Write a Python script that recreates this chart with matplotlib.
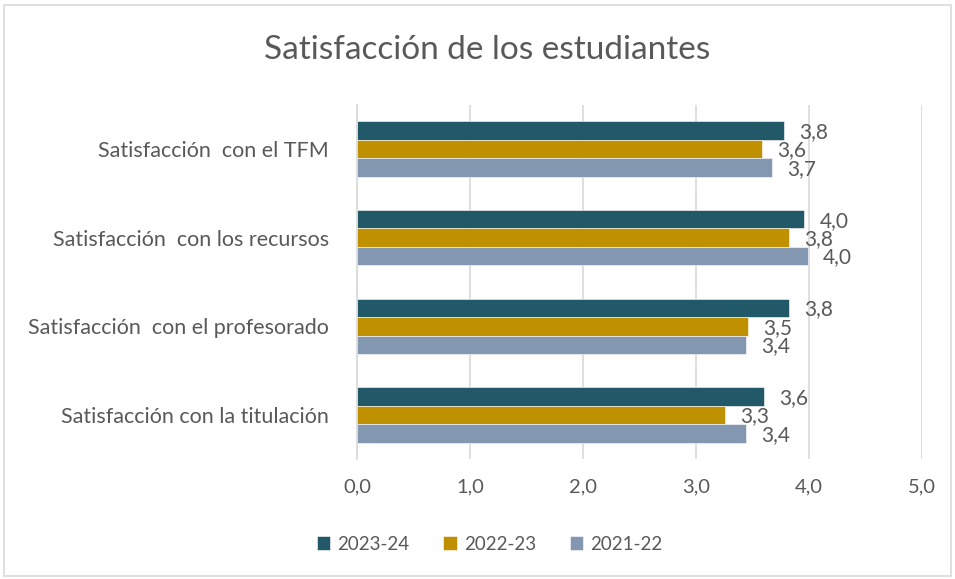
import matplotlib
matplotlib.use("Agg")
import matplotlib.pyplot as plt
from matplotlib.patches import Rectangle
import numpy as np

plt.rcParams['font.family'] = ['Lato', 'DejaVu Sans']

categories = ["Satisfacción con la titulación", "Satisfacción  con el profesorado",
              "Satisfacción  con los recursos", "Satisfacción  con el TFM"]
series_names = ["2023-24", "2022-23", "2021-22"]
v_2023_24 = [3.60, 3.82, 3.96, 3.78]
v_2022_23 = [3.26, 3.46, 3.82, 3.58]
v_2021_22 = [3.44, 3.44, 3.99, 3.67]
colors = ["#215968", "#BF9000", "#8497B0"]
xticks = [0, 1, 2, 3, 4, 5]

text_color = "#595959"
fig = plt.figure(figsize=(9.55, 5.79), dpi=100)
ax = fig.add_axes([0.3738, 0.2067, 0.5916, 0.6125])

y = np.arange(len(categories))
h = 0.207
data = [v_2023_24, v_2022_23, v_2021_22]
offsets = [h, 0, -h]
for vals, off, c, name in zip(data, offsets, colors, series_names):
    bars = ax.barh(y + off, vals, height=h, color=c, label=name, edgecolor='white', linewidth=0.4)
    for b, v in zip(bars, vals):
        ax.annotate(f"{v:.1f}".replace('.', ','), (v, b.get_y() + b.get_height() / 2),
                    xytext=(11, -1), textcoords='offset points', va='center', ha='left',
                    fontsize=15, color=text_color)

ax.set_xlim(0, 5)
ax.set_ylim(-0.5, 3.5)
ax.set_xticks(xticks)
ax.set_xticklabels([f"{t:.1f}".replace('.', ',') for t in xticks])
ax.set_yticks(y)
ax.set_yticklabels(categories, fontsize=15.5)
ax.tick_params(axis='both', length=0, colors=text_color)
ax.tick_params(axis='x', pad=14, labelsize=14.5)
ax.tick_params(axis='y', pad=20)
ax.xaxis.grid(True, color='#D9D9D9', linewidth=1.2)
ax.set_axisbelow(True)
for s in ['top', 'right', 'bottom']:
    ax.spines[s].set_visible(False)
ax.spines['left'].set_color('#D9D9D9')
ax.spines['left'].set_linewidth(1.2)

fig.text(0.51, 0.914, "Satisfacción de los estudiantes", ha='center', va='center',
         fontsize=24, color=text_color)

handles, labels = ax.get_legend_handles_labels()
fig.legend(handles, labels, loc='center', bbox_to_anchor=(0.513, 0.0604), ncol=3,
           frameon=False, fontsize=13.5, handlelength=0.7, handleheight=0.7,
           handletextpad=0.4, columnspacing=1.8, labelcolor=text_color)

fig.patches.append(Rectangle((0.004, 0.006), 0.992, 0.986, transform=fig.transFigure,
                             fill=False, edgecolor='#D9D9D9', linewidth=1.2))

fig.savefig("out.png", dpi=100, facecolor='white')
